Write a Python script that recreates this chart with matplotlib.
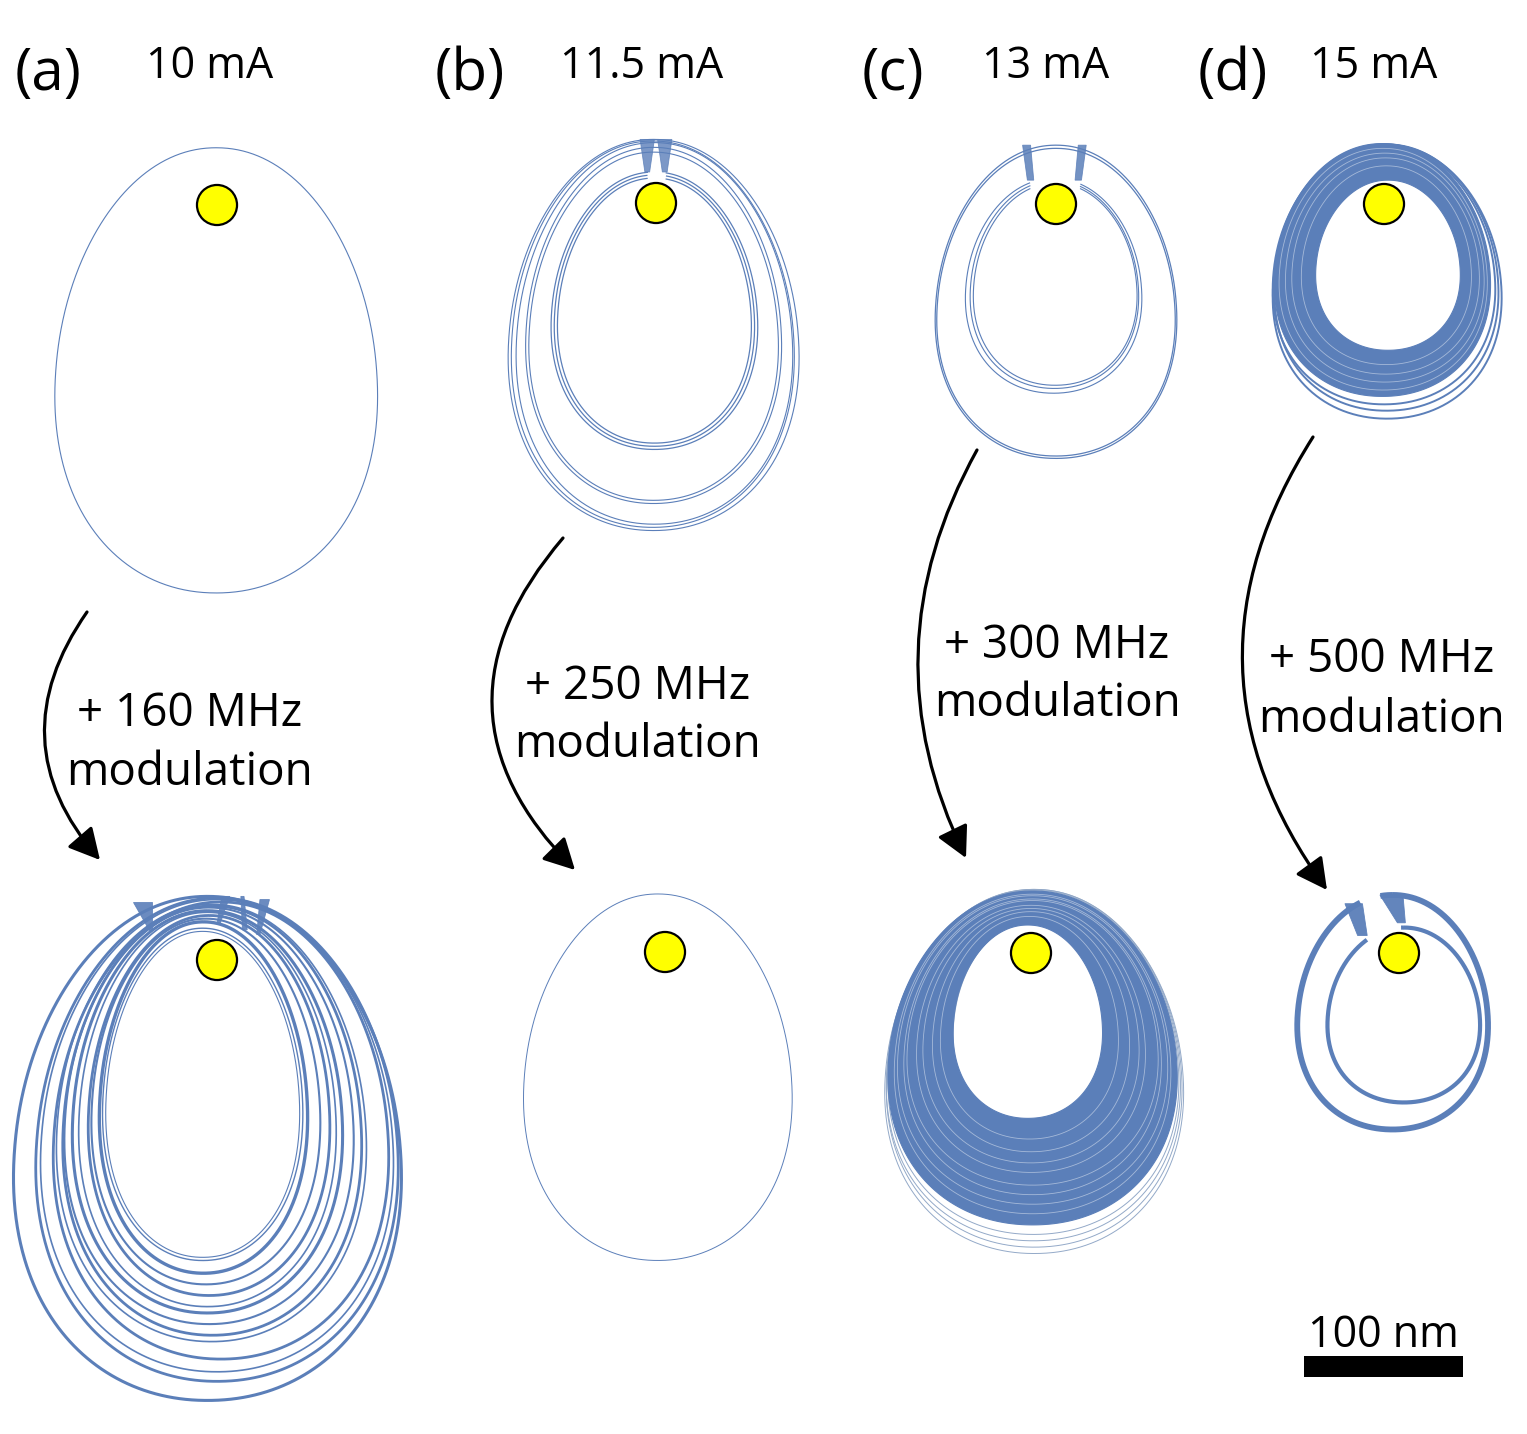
import numpy as np
import matplotlib
matplotlib.use("Agg")
import matplotlib.pyplot as plt
from matplotlib.patches import Circle, Rectangle, FancyArrowPatch, PathPatch, Polygon
from matplotlib.path import Path

plt.rcParams['font.family'] = ['Open Sans', 'DejaVu Sans']

# ------------------------------------------------------------------ data
panel_labels = ["(a)", "(b)", "(c)", "(d)"]
currents = ["10 mA", "11.5 mA", "13 mA", "15 mA"]
modulations = ["+ 160 MHz", "+ 250 MHz", "+ 300 MHz", "+ 500 MHz"]
scale_bar_nm = 100

# orbit loops in nm, relative to the nanocontact (dot): (left, right, top, bottom)
a_free_loops = [(-102, 101, 36, -244)]
a_mod_loops = [(-128, 116, 40, -277), (-114, 114, 39, -265), (-111, 111, 38, -259),
               (-103, 108, 36.5, -251), (-101, 94, 35, -240), (-97, 91, 34, -236),
               (-96, 86, 33, -229), (-91, 79, 31, -222), (-87, 75, 30, -218),
               (-81, 71, 28, -211), (-79, 65, 26, -204), (-74, 57, 24, -197),
               (-72, 54, 20, -189), (-70, 52, 18, -187)]
a_mod_widths = [2.2, 2.0, 1.2, 2.0, 1.2, 2.0, 1.5, 2.2, 1.2, 2.0, 1.5, 2.4, 1.0, 0.8]
# gates: (x_top_left, x_top_right, x_bot_left, x_bot_right, y_top, y_bot)
a_mod_gates = [(-53, -41, -43, -41, 36.5, 19), (3, 8, 0, 2, 40, 23),
               (15, 17, 16, 19, 40, 19), (27, 33, 25, 27, 38, 16)]

b_free_outer = [(-93, 90, 40, -206), (-91, 87, 39, -204), (-88, 86, 38, -202),
                (-82, 79, 35, -189), (-80, 77, 32, -187)]
b_free_inner = [(-66, 64, 19.5, -155), (-64, 62, 17.6, -153), (-62, 60, 15.7, -151)]
b_free_gap = (-5, 6)
b_free_gates = [(-10, -1, -7, -4, 40, 19.5), (1, 10, 4, 7, 40, 19.5)]
b_mod_loops = [(-89, 80, 36.5, -194)]

c_free_outer = [(-76, 76, 37, -160), (-75, 75, 35, -158.5)]
c_free_inner = [(-57, 54, 16, -119), (-54, 52, 14.5, -116), (-52, 51, 13, -114)]
c_free_gap = (-16, 15)
c_free_gates = [(-21, -16, -18, -14, 37, 15), (14, 19, 12, 16, 37, 15)]

c_mod_band_outer = (-90, 92, 39, -171)
c_mod_band_hole = (-49, 45, 17.6, -104)
c_mod_rim = [(-92, 96, 40, -189), (-91, 95, 40, -185), (-91, 94, 39.5, -181),
             (-90, 93, 39, -177), (-50, 47, 19.5, -111), (-49, 46, 18.5, -108)]
c_mod_streaks = [(-86, 88, 37, -164), (-84, 86, 36, -158), (-80, 82, 34, -152),
                 (-78, 80, 33, -146), (-72, 72, 30, -138), (-68, 68, 28, -132),
                 (-62, 62, 26, -125), (-57, 55, 23, -117)]

d_free_band_outer = (-69, 67, 38, -121)
d_free_band_hole = (-43, 48, 15, -92)
d_free_rim = [(-70, 74, 37, -135), (-69, 72, 37.5, -130), (-70, 70, 37.5, -126)]
d_free_streaks = [(-66, 65, 35, -117), (-62, 63, 32, -112), (-58, 60, 29, -107),
                  (-52, 55, 24, -101)]

d_mod_outer = [(-64, 56, 36.5, -111)]
d_mod_outer_gap = (-24, -12)
d_mod_inner = [(-45, 51, 16, -94)]
d_mod_inner_gap = (-20, 1)
d_mod_gates = [(-34, -23, -26, -20, 31, 11), (-12, 2.5, -1, 4, 36.5, 19)]

# ------------------------------------------------------------------ layout
W, H, DPI = 1527, 1434, 100
PX_PER_NM = 1.59
BLUE = '#5b7fb9'
LIGHT = '#93a9c8'
DOT_R_NM = 12.6

# pixel position of the dot in each sub-panel
dot_px = {'a0': (217, 205), 'a1': (217, 960), 'b0': (656, 203), 'b1': (665, 952),
          'c0': (1056, 204), 'c1': (1031, 953), 'd0': (1384, 204), 'd1': (1399, 953)}

fig = plt.figure(figsize=(W / DPI, H / DPI), dpi=DPI)


def panel_axes(key):
    px, py = dot_px[key]
    ax = fig.add_axes([0, 0, 1, 1])
    ax.set_xlim(-px / PX_PER_NM, (W - px) / PX_PER_NM)
    ax.set_ylim(-(H - py) / PX_PER_NM, py / PX_PER_NM)
    ax.axis('off')
    ax.patch.set_alpha(0)
    return ax


def _spow(u, p):
    return np.sign(u) * np.abs(u) ** (2.0 / p)


def egg(ext, k=0.1, p=2.08, n=900):
    left, right, top, bot = ext
    t = np.linspace(0, 2 * np.pi, n)
    cx = (left + right) / 2
    hw = (right - left) / 2
    yc = (top + bot) / 2
    b = (top - bot) / 2
    tt = np.linspace(0, np.pi, 3000)
    fmax = np.max(_spow(np.sin(tt), p) * (1 - k * _spow(np.cos(tt), p)))
    a = hw / fmax
    x = cx + a * _spow(np.sin(t), p) * (1 - k * _spow(np.cos(t), p))
    y = yc + b * _spow(np.cos(t), p)
    return x, y


def draw_loops(ax, loops, lw=0.8, color=BLUE, gap=None, alpha=1.0, z=2):
    if np.isscalar(lw):
        lw = [lw] * len(loops)
    for ext, w in zip(loops, lw):
        x, y = egg(ext)
        if gap is not None:
            yc = (ext[2] + ext[3]) / 2
            m = (y > yc) & (x > gap[0]) & (x < gap[1])
            x = np.where(m, np.nan, x)
            y = np.where(m, np.nan, y)
        ax.plot(x, y, color=color, lw=w, alpha=alpha, zorder=z, solid_capstyle='butt')


def draw_gates(ax, gates, lw=0.6, alpha=0.9):
    for xt0, xt1, xb0, xb1, yt, yb in gates:
        poly = Polygon([(xt0, yt), (xt1, yt), (xb1, yb), (xb0, yb)], closed=True,
                       facecolor=BLUE, edgecolor=BLUE, lw=lw, alpha=alpha, zorder=2)
        ax.add_patch(poly)


def draw_band(ax, outer, hole, color=BLUE):
    xo, yo = egg(outer)
    xi, yi = egg(hole)
    p1 = Path(np.column_stack([xo, yo]))
    p2 = Path(np.column_stack([xi[::-1], yi[::-1]]))
    path = Path.make_compound_path(p1, p2)
    ax.add_patch(PathPatch(path, facecolor=color, edgecolor=color, lw=0.8, zorder=2))


def draw_dot(ax):
    ax.add_patch(Circle((0, 0), DOT_R_NM, facecolor='#ffff00', edgecolor='black',
                        lw=1.6, zorder=10))


# (a)
ax = panel_axes('a0'); draw_loops(ax, a_free_loops, lw=0.8); draw_dot(ax)
ax = panel_axes('a1'); draw_loops(ax, a_mod_loops, lw=a_mod_widths)
draw_gates(ax, a_mod_gates); draw_dot(ax)
# (b)
ax = panel_axes('b0'); draw_loops(ax, b_free_outer, lw=0.8)
draw_loops(ax, b_free_inner, lw=0.9, gap=b_free_gap); draw_gates(ax, b_free_gates, alpha=0.8)
draw_dot(ax)
ax = panel_axes('b1'); draw_loops(ax, b_mod_loops, lw=0.7); draw_dot(ax)
# (c)
ax = panel_axes('c0'); draw_loops(ax, c_free_outer, lw=0.9)
draw_loops(ax, c_free_inner, lw=0.8, gap=c_free_gap); draw_gates(ax, c_free_gates, alpha=0.85)
draw_dot(ax)
ax = panel_axes('c1'); draw_loops(ax, c_mod_rim, lw=0.7, color=LIGHT)
draw_band(ax, c_mod_band_outer, c_mod_band_hole)
draw_loops(ax, c_mod_streaks, lw=0.6, color='white', alpha=0.45, z=3)
draw_dot(ax)
# (d)
ax = panel_axes('d0'); draw_loops(ax, d_free_rim, lw=1.4)
draw_band(ax, d_free_band_outer, d_free_band_hole)
draw_loops(ax, d_free_streaks, lw=0.6, color='white', alpha=0.45, z=3)
draw_dot(ax)
ax = panel_axes('d1'); draw_loops(ax, d_mod_outer, lw=4.2, gap=d_mod_outer_gap)
draw_loops(ax, d_mod_inner, lw=3.0, gap=d_mod_inner_gap); draw_gates(ax, d_mod_gates, alpha=0.95)
draw_dot(ax)
# scale bar in nm (drawn in the (d) modulated panel frame)
ax.add_patch(Rectangle((-60, -266.7), scale_bar_nm, 13.2, facecolor='black',
                       edgecolor='none', zorder=5))
ax.text(-60 + scale_bar_nm / 2, -248, f"{scale_bar_nm} nm", ha='center', va='baseline',
        fontsize=31)

# ------------------------------------------------------------------ annotations (pixel frame)
ov = fig.add_axes([0, 0, 1, 1])
ov.set_xlim(0, W); ov.set_ylim(H, 0); ov.axis('off'); ov.patch.set_alpha(0)

label_x = [15, 435, 862, 1198]
current_x = [210, 642, 1046, 1374]
for lab, lx in zip(panel_labels, label_x):
    ov.text(lx, 90, lab, ha='left', va='baseline', fontsize=42)
for cur, cx in zip(currents, current_x):
    ov.text(cx, 78, cur, ha='center', va='baseline', fontsize=31)

mod_x = [190, 638, 1057, 1382]
mod_y = [(726, 785), (699, 757), (658, 716), (672, 732)]
for txt, mx, (y1, y2) in zip(modulations, mod_x, mod_y):
    ov.text(mx, y1, txt, ha='center', va='baseline', fontsize=33)
    ov.text(mx, y2, "modulation", ha='center', va='baseline', fontsize=33)

arrows = [((87, 612), (100, 860), 0.39), ((563, 538), (575, 870), 0.46),
          ((977, 450), (966, 858), 0.26), ((1313, 437), (1327, 890), 0.34)]
for p0, p1, rad in arrows:
    ar = FancyArrowPatch(p0, p1, connectionstyle=f"arc3,rad={rad}",
                         arrowstyle="-|>,head_length=0.95,head_width=0.5",
                         mutation_scale=20, lw=2.3, color='black',
                         shrinkA=0, shrinkB=0)
    ov.add_patch(ar)

fig.savefig("out.png", dpi=DPI)
